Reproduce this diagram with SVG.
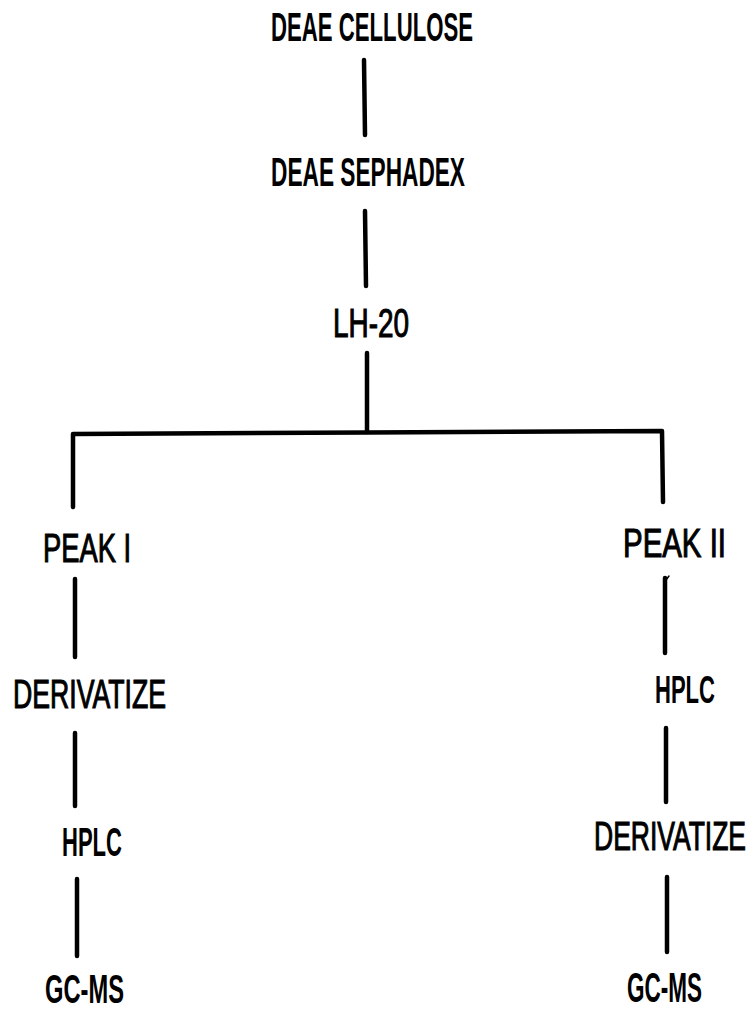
<svg xmlns="http://www.w3.org/2000/svg" width="754" height="1011" viewBox="0 0 754 1011">
<style>
text{font-family:"Liberation Sans","Arial",sans-serif;font-size:40px;fill:#000;text-anchor:middle}
.b{font-weight:bold}
.r{stroke:#000;stroke-width:1.1}
.c{fill:none;stroke:#000;stroke-width:4.5;stroke-linecap:round;stroke-linejoin:round}
</style>
<rect width="754" height="1011" fill="#fff"/>
<g id="connectors" class="c">
<path d="M364 60 L365 135"/>
<path d="M365 211 L366 286"/>
<path d="M367 353 L367 432"/>
<path d="M73 507 L73 434 L367 432.5 L662 431 L663 502"/>
<path d="M75 579 L75 657"/>
<path d="M75 733 L75 806"/>
<path d="M77 879 L77 956"/>
<path d="M665 578 L665 653"/>
<path d="M666 580 L669 576" style="stroke-width:1.5"/>
<path d="M666 728 L666 802"/>
<path d="M667 877 L667 952"/>
</g>
<g id="deae-cellulose" transform="translate(372 41) scale(0.554 1)"><text class="b" textLength="364.6" lengthAdjust="spacingAndGlyphs">DEAE CELLULOSE</text></g>
<g id="deae-sephadex" transform="translate(368 186) scale(0.567 1)"><text class="b" textLength="342.1" lengthAdjust="spacingAndGlyphs">DEAE SEPHADEX</text></g>
<g id="lh20" transform="translate(371 337) scale(0.7 1)"><text class="r" textLength="108.6" lengthAdjust="spacingAndGlyphs">LH-20</text></g>
<g id="peak1" transform="translate(87 562) scale(0.68 1)"><text class="r" textLength="129.4" lengthAdjust="spacingAndGlyphs">PEAK I</text></g>
<g id="derivatize1" transform="translate(89.5 708) scale(0.65 1)"><text class="r" textLength="235.4" lengthAdjust="spacingAndGlyphs">DERIVATIZE</text></g>
<g id="hplc1" transform="translate(92 856) scale(0.55 1)"><text class="b" textLength="109.1" lengthAdjust="spacingAndGlyphs">HPLC</text></g>
<g id="gcms1" transform="translate(84.5 1003) scale(0.59 1.03)"><text class="b" textLength="133.9" lengthAdjust="spacingAndGlyphs">GC-MS</text></g>
<g id="peak2" transform="translate(674.5 557) scale(0.735 1)"><text class="r" textLength="140.1" lengthAdjust="spacingAndGlyphs">PEAK II</text></g>
<g id="hplc2" transform="translate(685 703) scale(0.55 0.96)"><text class="b" textLength="109.1" lengthAdjust="spacingAndGlyphs">HPLC</text></g>
<g id="derivatize2" transform="translate(670 850) scale(0.65 1)"><text class="r" textLength="233.8" lengthAdjust="spacingAndGlyphs">DERIVATIZE</text></g>
<g id="gcms2" transform="translate(664.5 1002) scale(0.56 1.08)"><text class="b" textLength="133.9" lengthAdjust="spacingAndGlyphs">GC-MS</text></g>
</svg>
